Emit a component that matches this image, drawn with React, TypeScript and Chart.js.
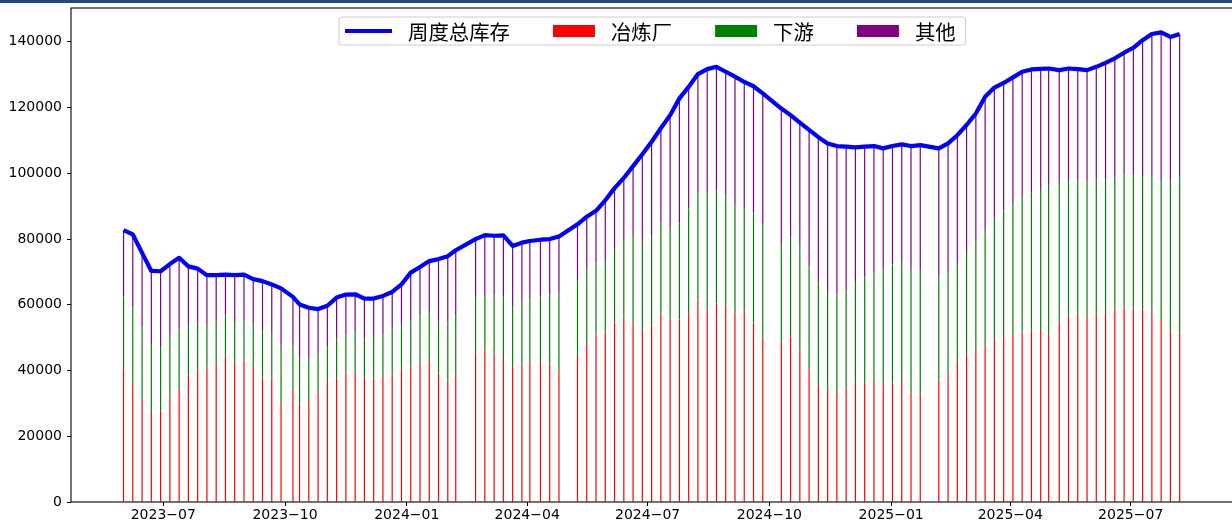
import React, { useEffect, useRef } from 'react';
import { Chart, registerables } from 'chart.js';

Chart.register(...registerables);

// ---- data ----
const dates = [
  '2023-06-01', '2023-06-08', '2023-06-15', '2023-06-22', '2023-06-29', '2023-07-06', '2023-07-13', '2023-07-20', '2023-07-27', '2023-08-03',
  '2023-08-10', '2023-08-17', '2023-08-24', '2023-08-31', '2023-09-07', '2023-09-14', '2023-09-21', '2023-09-28', '2023-10-07', '2023-10-12',
  '2023-10-19', '2023-10-26', '2023-11-02', '2023-11-09', '2023-11-16', '2023-11-23', '2023-11-30', '2023-12-07', '2023-12-14', '2023-12-21',
  '2023-12-28', '2024-01-04', '2024-01-11', '2024-01-18', '2024-01-25', '2024-02-01', '2024-02-07', '2024-02-22', '2024-02-29', '2024-03-07',
  '2024-03-14', '2024-03-21', '2024-03-28', '2024-04-03', '2024-04-11', '2024-04-18', '2024-04-25', '2024-05-09', '2024-05-16', '2024-05-23',
  '2024-05-30', '2024-06-06', '2024-06-13', '2024-06-20', '2024-06-27', '2024-07-04', '2024-07-11', '2024-07-18', '2024-07-25', '2024-08-01',
  '2024-08-08', '2024-08-15', '2024-08-22', '2024-08-29', '2024-09-05', '2024-09-12', '2024-09-19', '2024-09-26', '2024-10-10', '2024-10-17',
  '2024-10-24', '2024-10-31', '2024-11-07', '2024-11-14', '2024-11-21', '2024-11-28', '2024-12-05', '2024-12-12', '2024-12-19', '2024-12-26',
  '2025-01-02', '2025-01-09', '2025-01-16', '2025-01-23', '2025-02-06', '2025-02-13', '2025-02-20', '2025-02-27', '2025-03-06', '2025-03-13',
  '2025-03-20', '2025-03-27', '2025-04-03', '2025-04-10', '2025-04-17', '2025-04-24', '2025-04-30', '2025-05-08', '2025-05-15', '2025-05-22',
  '2025-05-29', '2025-06-05', '2025-06-12', '2025-06-19', '2025-06-26', '2025-07-03', '2025-07-10', '2025-07-17', '2025-07-24', '2025-07-31',
  '2025-08-07',
];

const smelter = [
  40700, 36200, 31000, 27400, 27900, 31800, 34000, 38600, 40100, 40900,
  42000, 44500, 42300, 43100, 40900, 37900, 37600, 30100, 34200, 29900,
  30700, 33500, 36500, 37600, 39300, 39900, 37900, 37600, 38300, 39100,
  40300, 41300, 42300, 42900, 39100, 37000, 38600, 45400, 46200, 45200,
  44100, 41300, 41900, 42300, 42600, 41900, 39900, 44700, 48400, 51000,
  51800, 54600, 56100, 54300, 52300, 53600, 57300, 55500, 55500, 57400,
  61200, 58600, 60400, 59700, 57700, 58000, 54600, 49700, 48700, 50400,
  46000, 40300, 35500, 34000, 33800, 34500, 36200, 36300, 36800, 35800,
  36300, 36500, 33300, 32500, 37000, 39100, 42600, 44700, 46200, 47700,
  49700, 50200, 50700, 51600, 52100, 52300, 51000, 54600, 56500, 57000,
  56300, 57100, 57500, 58600, 59100, 58900, 58600, 57800, 55300, 51700,
  51300,
];

const downstream = [
  21900, 23000, 22100, 20300, 19300, 18800, 18800, 15500, 14400, 12900,
  12800, 12300, 12500, 12200, 13400, 14400, 13700, 17600, 13100, 14200,
  12900, 11700, 10700, 12100, 11700, 11900, 11800, 12600, 12700, 13400,
  13500, 14000, 14500, 15200, 15700, 17600, 17900, 16800, 16200, 17700,
  18100, 18300, 19000, 19300, 20000, 21000, 23500, 22600, 22600, 21600,
  21800, 22200, 23000, 26900, 26800, 27100, 27500, 28200, 29300, 31900,
  33000, 35300, 34300, 33500, 32400, 31300, 33200, 34800, 30100, 30100,
  31800, 31400, 31200, 29900, 29300, 29600, 30500, 32000, 33000, 34900,
  36000, 36500, 37400, 38000, 31800, 30700, 29900, 31400, 33200, 34500,
  36800, 38600, 39800, 41100, 42000, 42900, 45200, 42500, 41400, 40900,
  41600, 41000, 40700, 40100, 40600, 40500, 40500, 41400, 42600, 46200,
  47800,
];

const others = [
  20100, 22200, 22700, 22600, 23000, 21800, 21500, 17600, 16500, 15200,
  14200, 12400, 14200, 13900, 13500, 14900, 14900, 17300, 15100, 16000,
  15500, 13500, 12500, 12500, 12100, 11400, 12200, 11700, 11700, 11400,
  12400, 14500, 14700, 15200, 19100, 20200, 20100, 17800, 18800, 18100,
  18900, 18300, 18000, 17800, 17200, 17100, 17400, 17200, 15800, 16000,
  18200, 18700, 19500, 21000, 26700, 28900, 28900, 34000, 38000, 37000,
  36000, 37800, 37700, 37700, 39300, 38500, 38700, 39800, 40900, 37200,
  37600, 41500, 44300, 45200, 45200, 44000, 41200, 39800, 38500, 36900,
  36000, 35800, 37600, 38100, 38800, 39300, 39100, 38600, 38800, 41100,
  39600, 38700, 38700, 38200, 37500, 36600, 35700, 34300, 34000, 33800,
  33500, 34300, 35400, 36300, 37000, 38800, 41400, 43200, 45000, 43600,
  43300,
];

const total = [
  82700, 81400, 75800, 70300, 70200, 72400, 74300, 71700, 71000, 69000,
  69000, 69200, 69000, 69200, 67800, 67200, 66200, 65000, 62400, 60100,
  59100, 58700, 59700, 62200, 63100, 63200, 61900, 61900, 62700, 63900,
  66200, 69800, 71500, 73300, 73900, 74800, 76600, 80000, 81200, 81000,
  81100, 77900, 78900, 79400, 79800, 80000, 80800, 84500, 86800, 88600,
  91800, 95500, 98600, 102200, 105800, 109600, 113700, 117700, 122800, 126300,
  130200, 131700, 132400, 130900, 129400, 127800, 126500, 124300, 119700, 117700,
  115400, 113200, 111000, 109100, 108300, 108100, 107900, 108100, 108300, 107600,
  108300, 108800, 108300, 108600, 107600, 109100, 111600, 114700, 118200, 123300,
  126100, 127500, 129200, 130900, 131600, 131800, 131900, 131400, 131900, 131700,
  131400, 132400, 133600, 135000, 136700, 138200, 140500, 142400, 142900, 141500,
  142400,
];

const xTickDates = ['2023-07-01', '2023-10-01', '2024-01-01', '2024-04-01', '2024-07-01', '2024-10-01', '2025-01-01', '2025-04-01', '2025-07-01'];
const xTickLabels = ['2023−07', '2023−10', '2024−01', '2024−04', '2024−07', '2024−10', '2025−01', '2025−04', '2025−07'];
const yTickValues = [0, 20000, 40000, 60000, 80000, 100000, 120000, 140000];
const legendLabels = ['周度总库存', '冶炼厂', '下游', '其他'];
const seriesColors = ['#0000ff', '#ff0000', '#008000', '#800080'];

// ---- helpers ----
const dayNum = (s: string) =>
  Date.UTC(+s.slice(0, 4), +s.slice(5, 7) - 1, +s.slice(8, 10)) / 86400000;

const X_ORIGIN = dayNum('2023-07-01');
const X_MIN = X_ORIGIN - 69.7;
const X_MAX = X_ORIGIN + 808.3;
const Y_MAX = 150300;

const TICK_FONT = { family: '"DejaVu Sans", sans-serif', size: 14 };
const LEGEND_FONT = '20.4px "Noto Sans CJK SC", sans-serif';

const framePlugin = {
  id: 'mplFrame',
  afterDraw(chart: any) {
    const { ctx, chartArea: a } = chart;
    ctx.save();
    ctx.strokeStyle = '#000';
    ctx.lineWidth = 1.1;
    ctx.strokeRect(a.left, a.top, a.right - a.left, a.bottom - a.top);
    ctx.restore();

    // legend (matplotlib "upper center" style)
    ctx.save();
    ctx.font = LEGEND_FONT;
    const handleW = [47, 42, 42, 42];
    const gapHT = 16;
    const gapTH = 43;
    const padL = 6;
    const padR = 10;
    const widths = legendLabels.map((t) => ctx.measureText(t).width);
    let w = padL + padR;
    legendLabels.forEach((_, i) => {
      w += handleW[i] + gapHT + widths[i];
      if (i < legendLabels.length - 1) w += gapTH;
    });
    const cx = (a.left + a.right) / 2;
    const x0 = Math.round(cx - w / 2);
    const top = 17;
    const h = 28;
    const r = 3;
    ctx.beginPath();
    ctx.moveTo(x0 + r, top);
    ctx.lineTo(x0 + w - r, top);
    ctx.quadraticCurveTo(x0 + w, top, x0 + w, top + r);
    ctx.lineTo(x0 + w, top + h - r);
    ctx.quadraticCurveTo(x0 + w, top + h, x0 + w - r, top + h);
    ctx.lineTo(x0 + r, top + h);
    ctx.quadraticCurveTo(x0, top + h, x0, top + h - r);
    ctx.lineTo(x0, top + r);
    ctx.quadraticCurveTo(x0, top, x0 + r, top);
    ctx.closePath();
    ctx.fillStyle = 'rgba(255,255,255,0.8)';
    ctx.fill();
    ctx.strokeStyle = '#cccccc';
    ctx.lineWidth = 1;
    ctx.stroke();

    const cy = 31;
    let x = x0 + padL;
    legendLabels.forEach((t, i) => {
      if (i === 0) {
        ctx.strokeStyle = seriesColors[0];
        ctx.lineWidth = 4.2;
        ctx.lineCap = 'butt';
        ctx.beginPath();
        ctx.moveTo(x, cy);
        ctx.lineTo(x + handleW[i], cy);
        ctx.stroke();
      } else {
        ctx.fillStyle = seriesColors[i];
        ctx.fillRect(x, cy - 6, handleW[i], 12);
      }
      x += handleW[i] + gapHT;
      ctx.fillStyle = '#000';
      ctx.textBaseline = 'middle';
      ctx.textAlign = 'left';
      ctx.fillText(t, x, cy + 1);
      x += widths[i] + gapTH;
    });
    ctx.restore();
  },
};

export default function App() {
  const ref = useRef<HTMLCanvasElement>(null);

  useEffect(() => {
    document.body.style.margin = '0';
    document.body.style.overflow = 'hidden';
    const xs = dates.map(dayNum);
    const pts = (arr: number[]) => arr.map((v, i) => ({ x: xs[i], y: v }));
    const barCommon = {
      type: 'bar' as const,
      stack: 'inv',
      barThickness: 1.2,
      inflateAmount: 0,
      borderWidth: 0,
    };

    const chart = new Chart(ref.current as HTMLCanvasElement, {
      type: 'bar',
      data: {
        datasets: [
          {
            type: 'line',
            label: legendLabels[0],
            data: pts(total),
            borderColor: seriesColors[0],
            backgroundColor: seriesColors[0],
            borderWidth: 4.2,
            pointRadius: 0,
            tension: 0,
            borderJoinStyle: 'round',
            borderCapStyle: 'butt',
            fill: false,
          } as any,
          { ...barCommon, label: legendLabels[1], data: pts(smelter), backgroundColor: seriesColors[1] } as any,
          { ...barCommon, label: legendLabels[2], data: pts(downstream), backgroundColor: seriesColors[2] } as any,
          { ...barCommon, label: legendLabels[3], data: pts(others), backgroundColor: seriesColors[3] } as any,
        ],
      },
      options: {
        responsive: false,
        animation: false,
        devicePixelRatio: 1,
        events: [],
        layout: { padding: { top: 8, right: 7, left: 0, bottom: 0 }, autoPadding: false } as any,
        plugins: { legend: { display: false }, tooltip: { enabled: false } },
        scales: {
          x: {
            type: 'linear',
            min: X_MIN,
            max: X_MAX,
            offset: false,
            border: { display: false },
            grid: { offset: false, drawOnChartArea: false, drawTicks: true, tickLength: 4, color: '#000', lineWidth: 1 },
            ticks: {
              autoSkip: false,
              maxRotation: 0,
              minRotation: 0,
              padding: 1,
              color: '#000',
              font: TICK_FONT,
              callback: (value: any) => {
                const i = xTickDates.findIndex((d) => dayNum(d) === value);
                return i >= 0 ? xTickLabels[i] : '';
              },
            },
            afterBuildTicks: (s: any) => {
              s.ticks = xTickDates.map((d) => ({ value: dayNum(d) }));
            },
            afterFit: (s: any) => {
              s.height = 23;
              s.paddingLeft = 0;
              s.paddingRight = 0;
            },
          } as any,
          y: {
            type: 'linear',
            min: 0,
            max: Y_MAX,
            border: { display: false },
            grid: { drawOnChartArea: false, drawTicks: true, tickLength: 4, color: '#000', lineWidth: 1 },
            ticks: {
              padding: 5,
              color: '#000',
              font: TICK_FONT,
              callback: (value: any) => String(value),
            },
            afterBuildTicks: (s: any) => {
              s.ticks = yTickValues.map((v) => ({ value: v }));
            },
            afterFit: (s: any) => {
              s.width = 71;
              s.paddingTop = 0;
              s.paddingBottom = 0;
            },
          } as any,
        },
      },
      plugins: [framePlugin],
    });
    return () => chart.destroy();
  }, []);

  return (
    <div style={{ position: 'relative', width: 1232, height: 525, overflow: 'hidden', background: '#fff' }}>
      <canvas ref={ref} width={1240} height={525} style={{ display: 'block', width: 1240, height: 525 }} />
      <div style={{ position: 'absolute', left: 0, top: 0, width: 1232, height: 3, background: '#1f497d' }} />
    </div>
  );
}
